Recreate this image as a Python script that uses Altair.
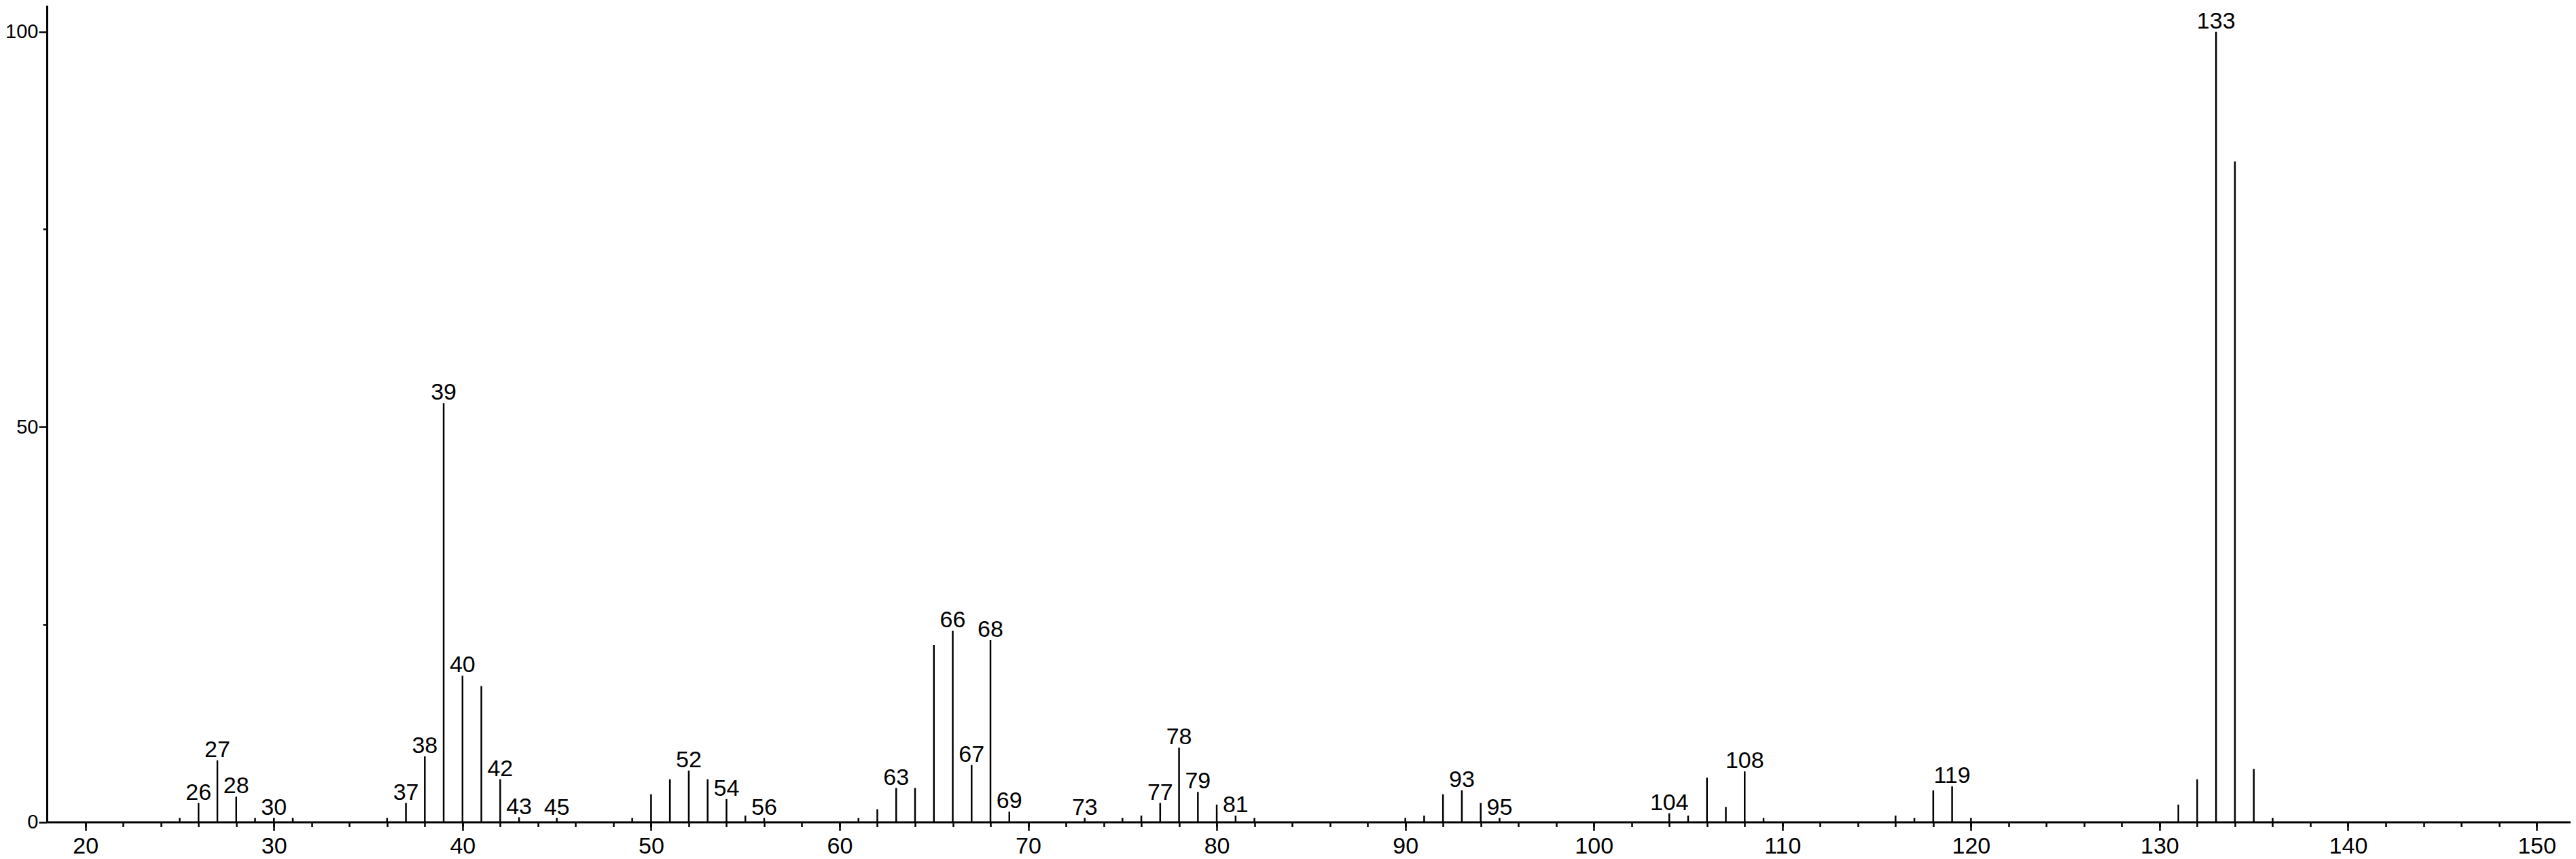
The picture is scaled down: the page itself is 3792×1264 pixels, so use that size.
import altair as alt
import pandas as pd

# m/z values and relative intensities (%)
mz = [25, 26, 27, 28, 29, 30, 31, 36, 37, 38, 39, 40, 41, 42, 43, 45,
      49, 50, 51, 52, 53, 54, 55, 56, 61, 62, 63, 64, 65, 66, 67, 68, 69,
      73, 75, 76, 77, 78, 79, 80, 81, 82, 90, 91, 92, 93, 94, 95,
      104, 105, 106, 107, 108, 109, 116, 117, 118, 119, 120,
      131, 132, 133, 134, 135, 136]
intensity = [0.5, 2.4, 7.8, 3.2, 0.5, 0.5, 0.5, 0.5, 2.4, 8.3, 53.0, 18.5, 17.2, 5.4, 0.6, 0.5,
             0.5, 3.5, 5.4, 6.5, 5.4, 2.9, 0.8, 0.5, 0.5, 1.6, 4.3, 4.3, 22.4, 24.2, 7.2, 23.0, 1.3,
             0.5, 0.5, 0.8, 2.4, 9.4, 3.8, 2.2, 0.8, 0.5, 0.5, 0.8, 3.5, 4.0, 2.4, 0.5,
             1.1, 0.8, 5.6, 1.9, 6.4, 0.5, 0.8, 0.5, 4.0, 4.5, 0.5,
             2.2, 5.4, 100.0, 83.6, 6.7, 0.5]
labelled = [26, 27, 28, 30, 37, 38, 39, 40, 42, 43, 45, 52, 54, 56, 63, 66, 67, 68,
            69, 73, 77, 78, 79, 81, 93, 95, 104, 108, 119, 133]

x_major = list(range(20, 160, 10))
x_minor = list(range(20, 152, 2))
y_major = [0, 50, 100]
y_minor = [25, 75]

df = pd.DataFrame({"mz": mz, "intensity": intensity})
df["label"] = [str(m) if m in labelled else "" for m in mz]

FONT = "Liberation Sans"
FS = 34

x_scale = alt.Scale(domain=[17.957, 151.8], nice=False, zero=False)
y_scale = alt.Scale(domain=[0, 103.33], nice=False, zero=True)

common = dict(tickColor="black", tickWidth=2.5, domainColor="black", domainWidth=3,
              grid=False, title=None, labelFont=FONT, labelColor="black",
              labelFlush=False, labelOverlap=False)
no_domain = {k: v for k, v in common.items() if not k.startswith("domain")}

x_axis_major = alt.Axis(values=x_major, tickSize=12.7, labelFontSize=FS,
                        labelPadding=6, labelBaseline="top", orient="bottom", **common)
x_axis_minor = alt.Axis(values=x_minor, tickSize=7, labels=False, domain=False,
                        orient="bottom", **no_domain)
y_axis_major = alt.Axis(values=y_major, tickSize=12, labelFontSize=29, labelPadding=1,
                        orient="left", **common)
y_axis_minor = alt.Axis(values=y_minor, tickSize=6, labels=False, domain=False,
                        orient="left", **no_domain)

base = alt.Chart(df)

sticks = base.mark_rule(color="black", strokeWidth=2.5).encode(
    x=alt.X("mz:Q", scale=x_scale, axis=x_axis_major),
    y=alt.Y("intensity:Q", scale=y_scale, axis=y_axis_major),
    y2=alt.datum(0),
)

labels = base.transform_filter("datum.label != ''").mark_text(
    font=FONT, fontSize=FS, color="black", baseline="alphabetic", align="center", dy=-5
).encode(
    x=alt.X("mz:Q", scale=x_scale, axis=x_axis_minor),
    y=alt.Y("intensity:Q", scale=y_scale, axis=y_axis_minor),
    text="label:N",
)

chart = alt.layer(sticks, labels).resolve_axis(x="independent", y="independent").properties(
    width=3715,
    height=1201.5,
    autosize=alt.AutoSizeParams(type="none"),
    padding={"left": 61, "top": 0, "right": 0, "bottom": 54},
    background="white",
).configure_view(stroke=None)

chart.save("out.html", embed_options={"renderer": "svg", "actions": False})
